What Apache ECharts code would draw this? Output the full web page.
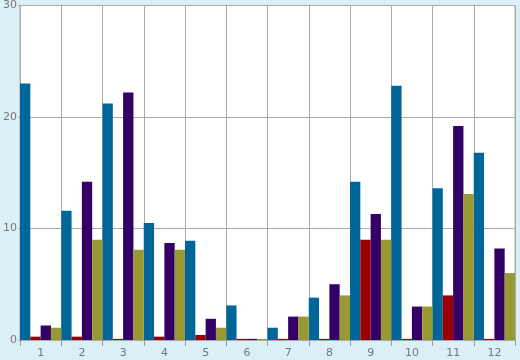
<!DOCTYPE html>
<html>
<head>
<meta charset="utf-8">
<script src="https://cdn.jsdelivr.net/npm/echarts@6/dist/echarts.min.js"></script>
<style>html,body{margin:0;padding:0;background:#daf0f6;}#c{width:520px;height:360px;}</style>
</head>
<body>
<div id="c"></div>
<script>
var categories = ['1','2','3','4','5','6','7','8','9','10','11','12'];
var seriesBlue   = [23.0, 11.6, 21.2, 10.5, 8.9, 3.1, 1.1, 3.8, 14.2, 22.8, 13.6, 16.8];
var seriesRed    = [0.3, 0.3, 0.1, 0.3, 0.45, 0.1, 0.1, 0.1, 9.0, 0.1, 4.0, 0.1];
var seriesPurple = [1.3, 14.2, 22.2, 8.7, 1.9, 0.1, 2.1, 5.0, 11.3, 3.0, 19.2, 8.2];
var seriesOlive  = [1.1, 9.0, 8.1, 8.1, 1.1, 0.1, 2.1, 4.0, 9.0, 3.0, 13.1, 6.0];
var yTicks = [0, 10, 20, 30];

var chart = echarts.init(document.getElementById('c'), null, {renderer: 'canvas'});
var font = 'DejaVu Sans';
function bar(data, color) {
  return {type: 'bar', data: data, barGap: '0%', barCategoryGap: '0%',
    itemStyle: {color: color}, animation: false};
}
chart.setOption({
  backgroundColor: '#daf0f6',
  animation: false,
  grid: {left: 20, right: 5, top: 5, bottom: 20, show: true,
    backgroundColor: '#ffffff', borderColor: '#aaaaaa', borderWidth: 1},
  xAxis: {
    type: 'category', data: categories, boundaryGap: true,
    axisLine: {show: true, lineStyle: {color: '#aaaaaa', width: 1}},
    axisTick: {show: true, length: 6, alignWithLabel: false, lineStyle: {color: '#999999'}},
    axisLabel: {color: '#777777', fontFamily: font, fontSize: 11, margin: 8},
    splitLine: {show: true, lineStyle: {color: '#aaaaaa', width: 1}}
  },
  yAxis: {
    type: 'value', min: yTicks[0], max: yTicks[yTicks.length - 1], interval: 10,
    axisLine: {show: true, lineStyle: {color: '#aaaaaa'}},
    axisTick: {show: true, length: 2, lineStyle: {color: '#aaaaaa'}},
    axisLabel: {color: '#777777', fontFamily: font, fontSize: 11, margin: 3},
    splitLine: {show: true, lineStyle: {color: '#aaaaaa', width: 1}}
  },
  series: [
    bar(seriesBlue, '#006699'),
    bar(seriesRed, '#990000'),
    bar(seriesPurple, '#330066'),
    bar(seriesOlive, '#999933')
  ]
});
</script>
</body>
</html>
